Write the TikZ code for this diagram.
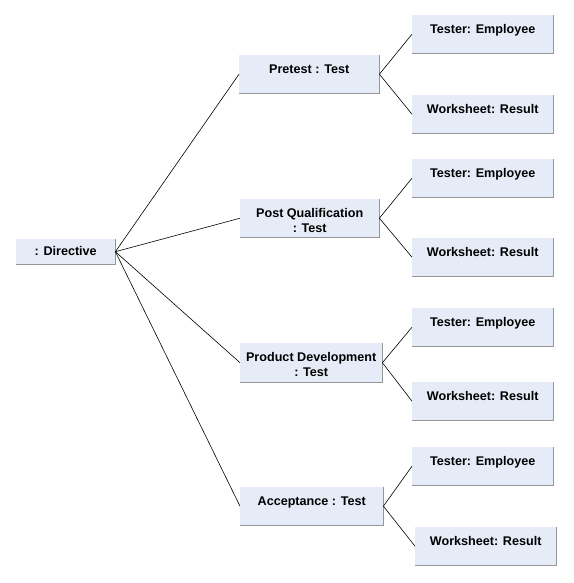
\documentclass[tikz,border=0pt]{standalone}
\usepackage{fontspec}
\setmainfont{Liberation Sans}
\usepackage{xcolor}
\usetikzlibrary{positioning}
\definecolor{objfill}{RGB}{230,236,247}
\definecolor{objedge}{RGB}{150,150,150}

\begin{document}
\begin{tikzpicture}[
  x=1pt, y=-1pt,
  font=\fontsize{12.6}{15.5}\selectfont\bfseries,
  obj/.style={fill=objfill, anchor=north west, inner sep=0pt, minimum width=141pt, align=center, text height=18pt, text depth=20pt},
  twoline/.style={text height=33.5pt, text depth=4.5pt},
  rim/.style={draw=objedge, line width=1pt},
  link/.style={draw=black, line width=0.6pt}
]
\useasboundingbox (0,0) rectangle (573,583);
\node[obj, minimum width=99pt, text height=16.5pt, text depth=8.5pt] (dir) at (16,239) {: Directive};
\node[obj, minimum width=140pt] (pre) at (239,55) {Pretest : Test};
\node[obj, twoline, minimum width=139pt] (post) at (240,199) {Post Qualification\\: Test};
\node[obj, twoline, minimum width=142pt, text depth=5.5pt] (prod) at (240,343) {Product Development\\: Test};
\node[obj, minimum width=143pt] (acc) at (240,487) {Acceptance : Test};
\foreach \n/\y in {pre/15, post/159, prod/308, acc/447} {
  \node[obj] (\n-tester) at (412,\y) {Tester: Employee};
}
\foreach \n/\x/\y in {pre/412/95, post/412/238, prod/412/382, acc/415/527} {
  \node[obj] (\n-sheet) at (\x,\y) {Worksheet: Result};
}
\foreach \n in {dir, pre, post, prod, acc, pre-tester, post-tester, prod-tester, acc-tester, pre-sheet, post-sheet, prod-sheet, acc-sheet} {
  \draw[rim] (\n.north east) -- (\n.south east) -- (\n.south west);
}
\foreach \n in {pre, post, prod, acc} {
  \draw[link] (dir.east) -- (\n.west);
  \draw[link] (\n.east) -- (\n-tester.west);
  \draw[link] (\n.east) -- (\n-sheet.west);
}
\end{tikzpicture}
\end{document}
